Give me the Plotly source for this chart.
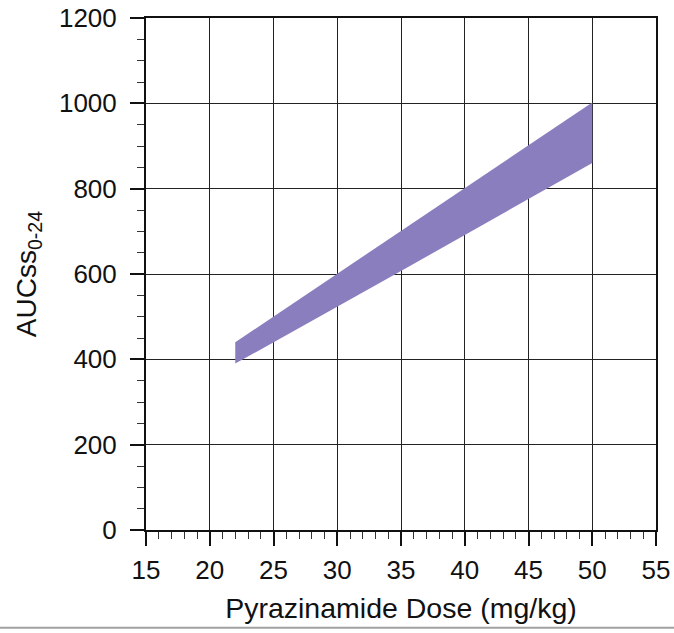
import plotly.graph_objects as go

# Band of predicted AUCss0-24 against pyrazinamide dose
dose = [22, 35, 50]
auc_upper = [440, 701, 1002]
auc_lower = [390, 607, 860]

fill_color = "#8a7ebe"
font_family = "Liberation Sans, Arial, sans-serif"

fig = go.Figure()
fig.add_trace(
    go.Scatter(x=dose, y=auc_lower, mode="lines", line=dict(width=0, color=fill_color),
               showlegend=False, hoverinfo="skip")
)
fig.add_trace(
    go.Scatter(x=dose, y=auc_upper, mode="lines", line=dict(width=0, color=fill_color),
               fill="tonexty", fillcolor=fill_color, showlegend=False, hoverinfo="skip")
)

axis_common = dict(
    automargin=False,
    showgrid=True,
    gridcolor="#222222",
    gridwidth=1.3,
    showline=True,
    linecolor="#111111",
    linewidth=2,
    mirror=True,
    ticks="outside",
    ticklen=14,
    tickwidth=1.5,
    tickcolor="#111111",
    zeroline=False,
    tickfont=dict(family=font_family, size=26, color="#111111"),
)

fig.update_xaxes(
    range=[15, 55],
    dtick=5,
    minor=dict(dtick=1, ticks="outside", ticklen=7, tickwidth=1.2, tickcolor="#333333", showgrid=False),
    title=dict(text="Pyrazinamide Dose (mg/kg)", font=dict(family=font_family, size=28.5, color="#111111"),
               standoff=14),
    ticklabelstandoff=2,
    **axis_common,
)
fig.update_yaxes(
    range=[0, 1200],
    dtick=200,
    minor=dict(dtick=50, ticks="outside", ticklen=7, tickwidth=1.2, tickcolor="#333333", showgrid=False),
    title=dict(text="AUCss<sub>0-24</sub>", font=dict(family=font_family, size=28, color="#111111"),
               standoff=14),
    ticklabelstandoff=8,
    **axis_common,
)

fig.update_layout(
    width=674,
    height=633,
    margin=dict(l=146, r=18, t=18, b=103),
    plot_bgcolor="white",
    paper_bgcolor="white",
    shapes=[
        dict(type="line", xref="paper", yref="paper", x0=-0.3, x1=1.05, y0=-0.191, y1=-0.191,
             line=dict(color="#a0a0a0", width=2)),
    ],
)

# drop the default body margin so the figure sits at the window origin
fig.write_html(
    "out.html",
    config={"displayModeBar": False},
    post_script="document.body.style.margin='0';",
)
